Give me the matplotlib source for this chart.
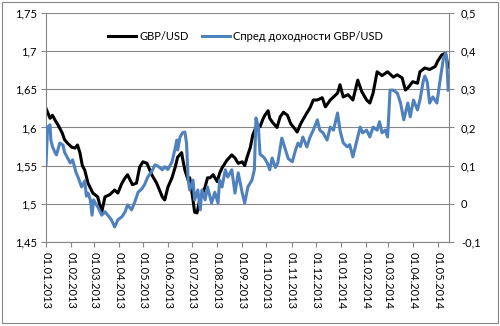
import datetime as dt
import matplotlib
matplotlib.use("Agg")
import matplotlib.pyplot as plt
import matplotlib.dates as mdates
from matplotlib.ticker import FuncFormatter, MultipleLocator

plt.rcParams['font.family'] = ['Lato', 'DejaVu Sans']

# GBP/USD (left axis)
gbp_dates = [
    "2013-01-01", "2013-01-06", "2013-01-09", "2013-01-12", "2013-01-16", "2013-01-21", "2013-01-24", "2013-01-28",
    "2013-02-02", "2013-02-06", "2013-02-09", "2013-02-12", "2013-02-15", "2013-02-18", "2013-02-22", "2013-02-28",
    "2013-03-06", "2013-03-11", "2013-03-15", "2013-03-21", "2013-03-27", "2013-03-31",
    "2013-04-05", "2013-04-09", "2013-04-12", "2013-04-18", "2013-04-23", "2013-04-27",
    "2013-05-01", "2013-05-06", "2013-05-12", "2013-05-18", "2013-05-25", "2013-05-28",
    "2013-06-01", "2013-06-06", "2013-06-10", "2013-06-13", "2013-06-18", "2013-06-19", "2013-06-22", "2013-06-26", "2013-06-28",
    "2013-07-02", "2013-07-04", "2013-07-07", "2013-07-11", "2013-07-14", "2013-07-17", "2013-07-20", "2013-07-23", "2013-07-27",
    "2013-08-01", "2013-08-04", "2013-08-07", "2013-08-13", "2013-08-19", "2013-08-23", "2013-08-27",
    "2013-09-01", "2013-09-04", "2013-09-07", "2013-09-11", "2013-09-14", "2013-09-19", "2013-09-23", "2013-09-27", "2013-09-29",
    "2013-10-03", "2013-10-05", "2013-10-09", "2013-10-14", "2013-10-18", "2013-10-22", "2013-10-27", "2013-10-31",
    "2013-11-06", "2013-11-08", "2013-11-12", "2013-11-15", "2013-11-20", "2013-11-24", "2013-11-28",
    "2013-12-03", "2013-12-09", "2013-12-13", "2013-12-19", "2013-12-28", "2013-12-31",
    "2014-01-04", "2014-01-10", "2014-01-16", "2014-01-22", "2014-01-27",
    "2014-02-02", "2014-02-06", "2014-02-10", "2014-02-15", "2014-02-21", "2014-02-28",
    "2014-03-07", "2014-03-12", "2014-03-18", "2014-03-22", "2014-03-26", "2014-03-31",
    "2014-04-06", "2014-04-09", "2014-04-15", "2014-04-21", "2014-04-28",
    "2014-05-01", "2014-05-06", "2014-05-10", "2014-05-12", "2014-05-14",
]
gbp_usd = [
    1.625, 1.612, 1.616, 1.610, 1.603, 1.593, 1.584, 1.579,
    1.574, 1.573, 1.577, 1.567, 1.550, 1.544, 1.527, 1.514,
    1.509, 1.489, 1.509, 1.512, 1.518, 1.514,
    1.527, 1.534, 1.538, 1.525, 1.527, 1.548,
    1.555, 1.553, 1.538, 1.527, 1.509, 1.505,
    1.522, 1.534, 1.548, 1.561, 1.567, 1.560, 1.544, 1.531, 1.534,
    1.505, 1.489, 1.488, 1.509, 1.514, 1.522, 1.534, 1.534, 1.538,
    1.529, 1.540, 1.547, 1.557, 1.564, 1.560, 1.553,
    1.555, 1.550, 1.561, 1.574, 1.590, 1.603, 1.601, 1.612, 1.616,
    1.622, 1.612, 1.606, 1.600, 1.614, 1.620, 1.616, 1.605,
    1.597, 1.594, 1.604, 1.610, 1.619, 1.626, 1.636,
    1.636, 1.639, 1.627, 1.636, 1.645, 1.656,
    1.640, 1.643, 1.636, 1.662, 1.647,
    1.636, 1.632, 1.645, 1.673, 1.668, 1.673,
    1.666, 1.669, 1.665, 1.649, 1.653, 1.660,
    1.658, 1.673, 1.678, 1.676, 1.680,
    1.687, 1.695, 1.697, 1.690, 1.679,
]

# yield spread (right axis)
spread_dates = [
    "2013-01-01", "2013-01-03", "2013-01-06", "2013-01-07", "2013-01-09", "2013-01-12", "2013-01-14", "2013-01-18",
    "2013-01-22", "2013-01-24", "2013-01-27", "2013-01-31",
    "2013-02-03", "2013-02-07", "2013-02-10", "2013-02-14", "2013-02-18", "2013-02-20", "2013-02-22", "2013-02-25", "2013-02-27",
    "2013-03-01", "2013-03-02", "2013-03-06", "2013-03-11", "2013-03-15", "2013-03-18", "2013-03-23", "2013-03-27", "2013-03-31",
    "2013-04-05", "2013-04-09", "2013-04-12", "2013-04-17", "2013-04-21", "2013-04-25", "2013-04-30",
    "2013-05-03", "2013-05-07", "2013-05-12", "2013-05-16", "2013-05-20", "2013-05-25", "2013-05-28",
    "2013-06-01", "2013-06-06", "2013-06-10", "2013-06-12", "2013-06-13", "2013-06-16", "2013-06-19", "2013-06-22",
    "2013-06-24", "2013-06-26", "2013-06-28",
    "2013-07-02", "2013-07-04", "2013-07-08", "2013-07-11", "2013-07-13", "2013-07-17", "2013-07-20", "2013-07-25", "2013-07-29",
    "2013-08-02", "2013-08-04", "2013-08-07", "2013-08-11", "2013-08-14", "2013-08-19", "2013-08-23", "2013-08-27",
    "2013-09-01", "2013-09-04", "2013-09-08", "2013-09-13", "2013-09-16", "2013-09-18", "2013-09-21", "2013-09-23",
    "2013-09-27", "2013-09-29",
    "2013-10-02", "2013-10-05", "2013-10-08", "2013-10-12", "2013-10-15", "2013-10-20", "2013-10-24", "2013-10-28",
    "2013-11-02", "2013-11-06", "2013-11-09", "2013-11-12", "2013-11-15", "2013-11-20", "2013-11-24", "2013-11-28",
    "2013-12-03", "2013-12-06", "2013-12-10", "2013-12-15", "2013-12-19", "2013-12-23", "2013-12-28", "2013-12-31",
    "2014-01-04", "2014-01-09", "2014-01-12", "2014-01-16", "2014-01-21", "2014-01-25", "2014-01-28",
    "2014-02-02", "2014-02-06", "2014-02-10", "2014-02-15", "2014-02-18", "2014-02-21", "2014-02-25", "2014-02-28",
    "2014-03-03", "2014-03-07", "2014-03-12", "2014-03-16", "2014-03-20", "2014-03-25", "2014-03-28",
    "2014-04-01", "2014-04-06", "2014-04-09", "2014-04-13", "2014-04-15", "2014-04-18", "2014-04-21", "2014-04-25", "2014-04-30",
    "2014-05-04", "2014-05-08", "2014-05-11", "2014-05-12", "2014-05-14",
]
spread = [
    0.102, 0.201, 0.207, 0.167, 0.150, 0.135, 0.128, 0.159,
    0.154, 0.135, 0.123, 0.107,
    0.115, 0.083, 0.068, 0.044, 0.060, 0.020, 0.028, 0.010, -0.030,
    0.010, 0.005, -0.008, -0.030, -0.021, -0.029, -0.042, -0.061, -0.042,
    -0.034, -0.021, -0.003, -0.016, 0.005, 0.030, 0.040,
    0.050, 0.070, 0.085, 0.102, 0.098, 0.089, 0.097,
    0.090, 0.110, 0.146, 0.167, 0.141, 0.175, 0.186, 0.188,
    0.159, 0.062, 0.036,
    0.062, 0.010, 0.036, -0.016, 0.036, 0.010, 0.044, 0.002, 0.030,
    0.002, 0.062, 0.044, 0.089, 0.070, 0.089, 0.028, 0.081,
    0.028, 0.002, 0.044, 0.062, 0.089, 0.225, 0.201, 0.130,
    0.123, 0.118,
    0.107, 0.089, 0.120, 0.095, 0.107, 0.172, 0.145, 0.118,
    0.110, 0.141, 0.159, 0.150, 0.175, 0.149, 0.175, 0.193,
    0.220, 0.193, 0.186, 0.167, 0.201, 0.193, 0.238, 0.193,
    0.160, 0.149, 0.155, 0.123, 0.167, 0.201, 0.186,
    0.193, 0.175, 0.201, 0.193, 0.215, 0.186, 0.193, 0.175,
    0.298, 0.298, 0.290, 0.264, 0.220, 0.264, 0.228,
    0.272, 0.246, 0.272, 0.320, 0.335, 0.320, 0.264, 0.280, 0.264,
    0.324, 0.380, 0.395, 0.385, 0.298,
]

assert len(gbp_dates) == len(gbp_usd), (len(gbp_dates), len(gbp_usd))
assert len(spread_dates) == len(spread), (len(spread_dates), len(spread))

to_dt = lambda s: dt.datetime.strptime(s, "%Y-%m-%d")
gx = [to_dt(s) for s in gbp_dates]
sx = [to_dt(s) for s in spread_dates]

grey = "#868686"
blue = "#4F81BD"

fig = plt.figure(figsize=(5, 3.26), dpi=100)
ax = fig.add_axes([0.092, 0.258, 0.806, 0.702])
ax2 = ax.twinx()

l1, = ax.plot(gx, gbp_usd, color="black", lw=2.2, label="GBP/USD")
l2, = ax2.plot(sx, spread, color=blue, lw=2.2, label="Спред доходности GBP/USD")

ax.set_ylim(1.45, 1.75)
ax2.set_ylim(-0.1, 0.5)
ax.yaxis.set_major_locator(MultipleLocator(0.05))
ax2.yaxis.set_major_locator(MultipleLocator(0.1))
comma = FuncFormatter(lambda v, p: ("%g" % round(v, 3)).replace(".", ","))
ax.yaxis.set_major_formatter(comma)
ax2.yaxis.set_major_formatter(comma)

ax.set_xlim(to_dt("2013-01-01"), to_dt("2014-05-15"))
ax.xaxis.set_major_locator(mdates.MonthLocator())
ax.xaxis.set_major_formatter(mdates.DateFormatter("%d.%m.%Y"))
for lab in ax.get_xticklabels():
    lab.set_rotation(-90)

ax.grid(axis="y", color=grey, lw=0.8)
ax.set_axisbelow(True)
for a in (ax, ax2):
    a.spines["top"].set_visible(False)
    for s in ("left", "right", "bottom"):
        a.spines[s].set_color(grey)
        a.spines[s].set_linewidth(0.8)
ax.spines["right"].set_visible(False)
ax2.spines["left"].set_visible(False)
ax2.spines["bottom"].set_visible(False)

ax.tick_params(axis="y", length=3.5, width=0.8, color=grey, labelsize=8, pad=3)
ax.tick_params(axis="x", length=3.5, width=0.8, color=grey, labelsize=8, pad=4)
ax2.tick_params(axis="y", length=3.5, width=0.8, color=grey, labelsize=8, pad=5)

ax.legend([l1, l2], [l1.get_label(), l2.get_label()], loc="upper center",
          bbox_to_anchor=(0.495, 0.965), ncol=2, frameon=False, fontsize=8,
          handlelength=2.5, columnspacing=1.2, handletextpad=0.3)

fig.patches.append(plt.Rectangle((0.004, 0.008), 0.991, 0.987, transform=fig.transFigure,
                                 fill=False, edgecolor=grey, lw=0.8))

fig.savefig("out.png", dpi=100)
